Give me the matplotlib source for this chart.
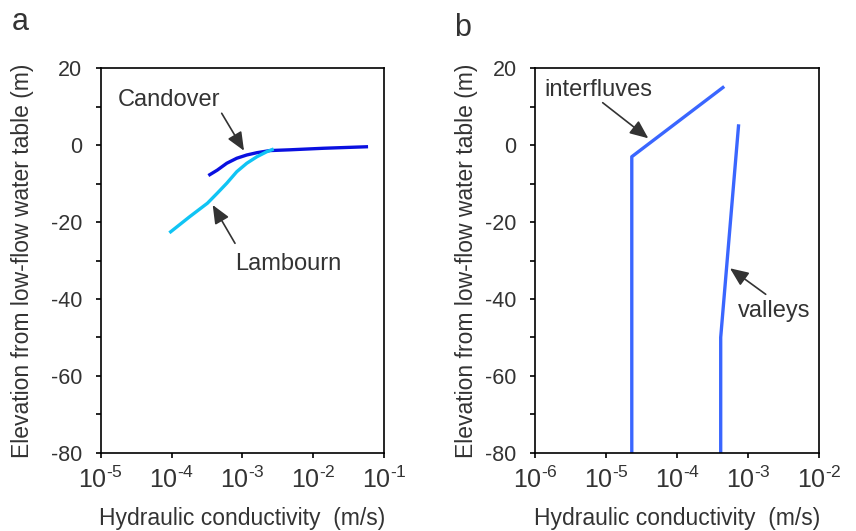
import matplotlib
matplotlib.use("Agg")
import matplotlib.pyplot as plt
import numpy as np
from matplotlib.ticker import FixedLocator, FuncFormatter, NullLocator

plt.rcParams["font.family"] = ["Liberation Sans", "DejaVu Sans"]
plt.rcParams["mathtext.fontset"] = "custom"
plt.rcParams["mathtext.rm"] = "Liberation Sans"
plt.rcParams["mathtext.default"] = "regular"
plt.rcParams["axes.unicode_minus"] = False

TEXT = "#333333"

# panel a: hydraulic conductivity profiles (m/s) vs elevation (m)
candover_k = [3.3e-4, 4.4e-4, 6.0e-4, 8.3e-4, 1.15e-3, 1.6e-3, 2.45e-3, 4.7e-3, 1.4e-2, 5.9e-2]
candover_z = [-7.9, -6.5, -4.7, -3.4, -2.55, -1.95, -1.4, -1.2, -0.8, -0.4]
lambourn_k = [9.3e-5, 1.8e-4, 3.2e-4, 4.4e-4, 6.0e-4, 8.3e-4, 1.15e-3, 1.6e-3, 2.2e-3, 2.75e-3]
lambourn_z = [-22.8, -18.6, -15.1, -12.5, -9.9, -6.9, -4.7, -3.0, -1.7, -1.0]

# panel b: idealised profiles
interfluve_k = [2.3e-5, 2.3e-5, 4.4e-4]
interfluve_z = [-80, -3, 15]
valley_k = [4.1e-4, 4.1e-4, 7.3e-4]
valley_z = [-80, -50, 5]

fig = plt.figure(figsize=(8.56, 5.31), dpi=100)
W, H = 856, 531
ax_a = fig.add_axes([100.7 / W, 1 - 452.7 / H, 283.6 / W, 384.4 / H])
ax_b = fig.add_axes([535 / W, 1 - 452.7 / H, 284.3 / W, 384.4 / H])


def style(ax, xmin, xmax, ylabelpad):
    ax.set_xscale("log")
    ax.set_xlim(xmin, xmax)
    ax.set_ylim(-80, 20)
    decades = [10.0 ** e for e in range(int(np.log10(xmin)), int(np.log10(xmax)) + 1)]
    ax.xaxis.set_major_locator(FixedLocator(decades))
    ax.xaxis.set_minor_locator(NullLocator())
    ax.xaxis.set_major_formatter(
        FuncFormatter(lambda v, _: rf"$10^{{\text{{{int(round(np.log10(v)))}}}}}$")
    )
    ax.set_yticks(np.arange(-80, 21, 10))
    ax.set_yticklabels([str(v) if v % 20 == 0 else "" for v in range(-80, 21, 10)])
    ax.tick_params(direction="out", length=3.8, width=1.2, labelcolor=TEXT)
    ax.tick_params(axis="y", pad=9.5, labelsize=15.5)
    ax.tick_params(axis="x", pad=6, labelsize=18)
    for s in ax.spines.values():
        s.set_linewidth(1.2)
    ax.set_xlabel("Hydraulic conductivity  (m/s)", fontsize=16.5, color=TEXT, labelpad=10.5)
    ax.set_ylabel("Elevation from low-flow water table (m)", fontsize=16.5,
                  color=TEXT, labelpad=ylabelpad)


style(ax_a, 1e-5, 1e-1, 12)
style(ax_b, 1e-6, 1e-2, 5)

ax_a.plot(candover_k, candover_z, color="#0a10e0", lw=2.4, solid_capstyle="butt")
ax_a.plot(lambourn_k, lambourn_z, color="#10c4f4", lw=2.4, solid_capstyle="butt")
ax_b.plot(interfluve_k, interfluve_z, color="#3a66ff", lw=2.4)
ax_b.plot(valley_k, valley_z, color="#3a66ff", lw=2.4)

arrow = dict(arrowstyle="-|>,head_length=0.7,head_width=0.3", color="#333333",
             lw=1.2, mutation_scale=16, shrinkA=0, shrinkB=0)


def px(ax, x, y):
    # convert reference pixel coordinates into data coordinates
    return ax.transData.inverted().transform((x, H - y))


ann = [
    (ax_a, "Candover", (118, 100), (221.7, 113.3), (244, 150.7)),
    (ax_a, "Lambourn", (235, 264), (235, 243.3), (212.7, 205)),
    (ax_b, "interfluves", (544, 90), (602.7, 102.7), (648.3, 138.3)),
    (ax_b, "valleys", (738, 311), (765.7, 294.3), (730, 268.3)),
]
for ax, label, tpos, tail, head in ann:
    ax.text(*px(ax, *tpos), label, fontsize=17, color=TEXT, ha="left", va="center")
    ax.annotate("", xy=px(ax, *head), xytext=px(ax, *tail), arrowprops=arrow)

fig.text(12 / W, 1 - 22 / H, "a", fontsize=22, color=TEXT, va="center")
fig.text(454 / W, 1 - 28 / H, "b", fontsize=22, color=TEXT, va="center")

fig.savefig("out.png", dpi=100)
